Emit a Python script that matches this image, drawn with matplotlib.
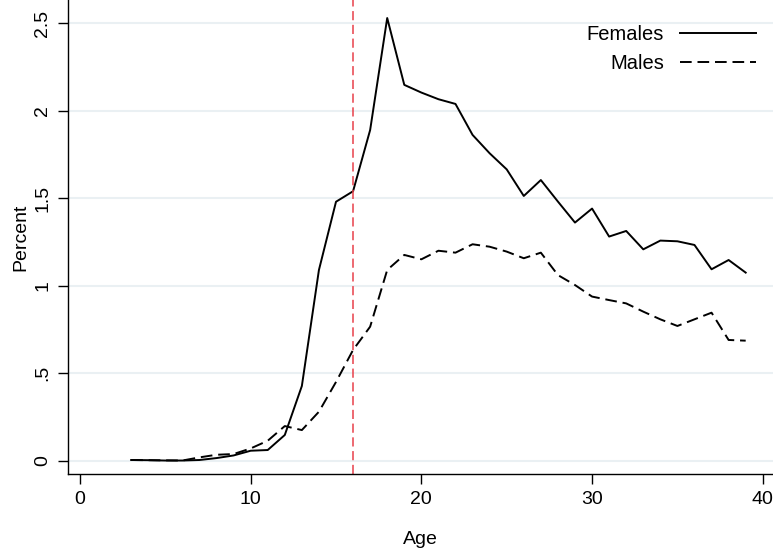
import numpy as np
import matplotlib
matplotlib.use("Agg")
import matplotlib.pyplot as plt

#%% data
age = list(range(3, 40))
females = [0.004, 0.003, 0.001, 0.001, 0.004, 0.015, 0.030, 0.057, 0.061, 0.147,
           0.427, 1.09, 1.48, 1.54, 1.89, 2.53, 2.148, 2.104, 2.066, 2.039,
           1.862, 1.757, 1.665, 1.513, 1.604, 1.481, 1.361, 1.441, 1.281, 1.313,
           1.208, 1.258, 1.254, 1.233, 1.094, 1.147, 1.075]
males = [0.004, 0.003, 0.002, 0.001, 0.019, 0.034, 0.038, 0.07, 0.114, 0.198,
         0.175, 0.28, 0.45, 0.633, 0.766, 1.09, 1.176, 1.151, 1.200, 1.189,
         1.237, 1.223, 1.195, 1.157, 1.189, 1.061, 1.004, 0.938, 0.918, 0.899,
         0.852, 0.808, 0.770, 0.808, 0.846, 0.690, 0.686]
cutoff_age = 16
yticks = [0, 0.5, 1, 1.5, 2, 2.5]
ytick_labels = ["0", ".5", "1", "1.5", "2", "2.5"]
xticks = [0, 10, 20, 30, 40]

plt.rcParams['font.family'] = ['Liberation Sans Narrow', 'Liberation Sans', 'DejaVu Sans']

fig = plt.figure(figsize=(7.73, 5.53), dpi=100)
ax = fig.add_axes([68 / 773, 1 - 474 / 553, 705 / 773, 474 / 553])

ax.plot(age, females, color='black', lw=1.4, label='Females')
ax.plot(age, males, color='black', lw=1.4, ls=(0, (6, 3)), label='Males')
ax.axvline(cutoff_age, color='#e8404a', lw=1.1, ls=(0, (6, 3)))

ax.set_xlim(-0.7, 40.6)
ax.set_ylim(-0.076, 2.633)
ax.set_yticks(yticks)
ax.set_yticklabels(ytick_labels, rotation=90, va='center')
ax.set_xticks(xticks)
ax.yaxis.grid(True, color='#eaf0f3', lw=1.5)
ax.set_axisbelow(True)

for s in ['top', 'right']:
    ax.spines[s].set_visible(False)
for s in ['left', 'bottom']:
    ax.spines[s].set_linewidth(1.0)
ax.tick_params(labelsize=14, length=7, width=1.0, direction='out', pad=5)
ax.set_xlabel('Age', fontsize=14, labelpad=17)
ax.set_ylabel('Percent', fontsize=14, labelpad=3.5)

ax.legend(loc='upper right', frameon=False, markerfirst=False, fontsize=14.5,
          handlelength=3.8, handletextpad=0.8, labelspacing=0.5,
          bbox_to_anchor=(0.988, 0.965), borderaxespad=0)

fig.savefig('out.png', dpi=100)
